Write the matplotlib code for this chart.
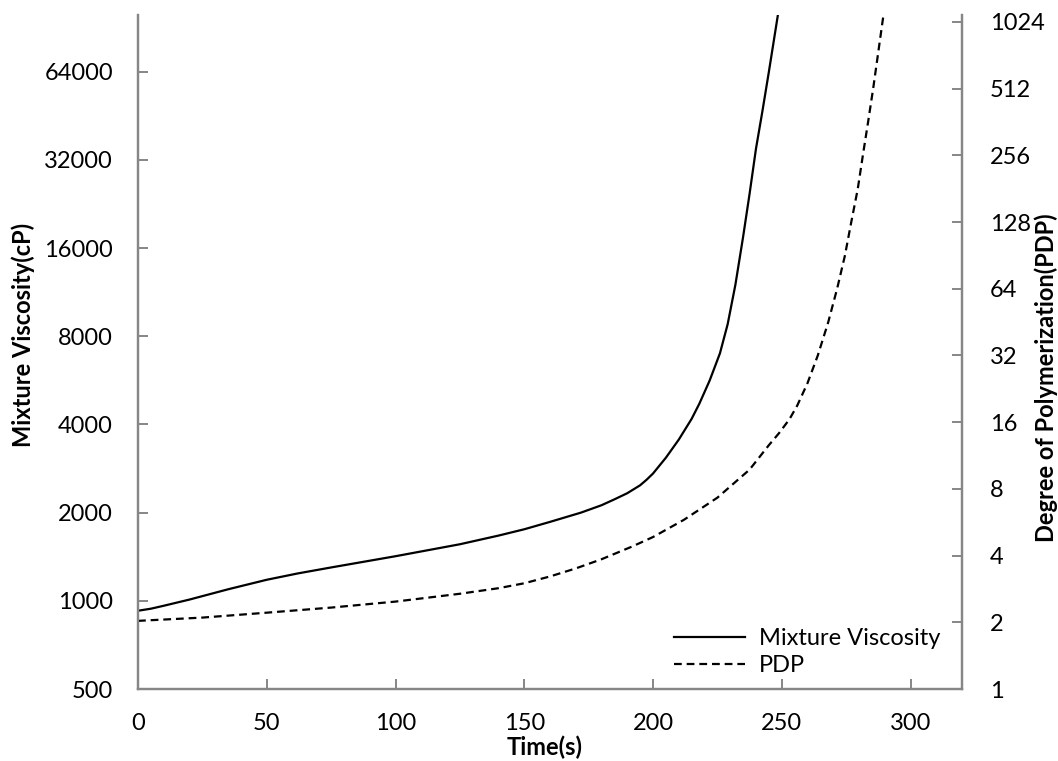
import matplotlib
matplotlib.use("Agg")
import matplotlib.pyplot as plt
from matplotlib.ticker import FixedLocator, NullLocator, FixedFormatter

# Mixture viscosity (cP) against time (s)
time_visc = [0, 5, 10, 20, 35, 50, 62, 75, 100, 125, 140, 150, 160, 172, 180, 185,
             190, 195, 197.5, 200, 205, 210, 215, 218, 222, 226, 229, 232, 235,
             237.5, 240, 242.5, 245, 248.5]
viscosity = [925, 940, 962, 1010, 1095, 1180, 1240, 1300, 1420, 1560, 1670, 1755,
             1860, 2000, 2120, 2220, 2330, 2480, 2590, 2720, 3080, 3550, 4180, 4710,
             5650, 7000, 8800, 12000, 17500, 24500, 35000, 47000, 64000, 100000]

# Degree of polymerization against time (s)
time_pdp = [0, 25, 50, 75, 100, 125, 140, 150, 160, 170, 180, 192, 200, 212, 225,
            237.5, 245, 249, 253, 256, 260, 264, 268, 271.5, 274.5, 277, 279.5,
            281.5, 283.5, 285.5, 287.5, 289.5]
pdp = [2.03, 2.1, 2.21, 2.33, 2.48, 2.69, 2.85, 3.0, 3.22, 3.5, 3.85, 4.4, 4.85,
       5.8, 7.3, 9.77, 12.6, 14.3, 16.5, 19, 24, 32, 45, 64, 90, 128, 180, 256,
       360, 512, 750, 1100]

time_ticks = [0, 50, 100, 150, 200, 250, 300]
visc_ticks = [500, 1000, 2000, 4000, 8000, 16000, 32000, 64000]
pdp_ticks = [1, 2, 4, 8, 16, 32, 64, 128, 256, 512, 1024]

axis_grey = "#868686"
plt.rcParams["font.family"] = ["Lato", "DejaVu Sans"]

fig = plt.figure(figsize=(10.58, 7.61), dpi=100)
ax = fig.add_axes([138 / 1058, 1 - 689 / 761, (962 - 138) / 1058, (689 - 15) / 761])
ax2 = ax.twinx()

line1, = ax.plot(time_visc, viscosity, color="black", lw=1.6, label="Mixture Viscosity")
line2, = ax2.plot(time_pdp, pdp, color="black", lw=1.6, dashes=(3.5, 2.2), label="PDP")

ax.set_xlim(0, 320)
ax.set_yscale("log", base=2)
ax.set_ylim(500, 100000)
ax2.set_yscale("log", base=2)
ax2.set_ylim(1, 1100)

ax.xaxis.set_major_locator(FixedLocator(time_ticks))
ax.xaxis.set_major_formatter(FixedFormatter([str(t) for t in time_ticks]))
ax.yaxis.set_major_locator(FixedLocator(visc_ticks))
ax.yaxis.set_major_formatter(FixedFormatter([str(v) for v in visc_ticks]))
ax.yaxis.set_minor_locator(NullLocator())
ax2.yaxis.set_major_locator(FixedLocator(pdp_ticks))
ax2.yaxis.set_major_formatter(FixedFormatter([str(v) for v in pdp_ticks]))
ax2.yaxis.set_minor_locator(NullLocator())

for a in (ax, ax2):
    for side in ("left", "right", "bottom"):
        a.spines[side].set_color(axis_grey)
        a.spines[side].set_linewidth(1.6)
    a.spines["top"].set_visible(False)

ax.tick_params(axis="x", direction="in", length=7.5, width=1.4, color=axis_grey,
               labelsize=17, pad=17)
ax.tick_params(axis="y", direction="in", length=7.5, width=1.4, color=axis_grey,
               labelsize=17, pad=18)
ax2.tick_params(axis="y", direction="in", length=7.5, width=1.4, color=axis_grey,
                labelsize=17, pad=20)

fig.text(23 / 1058, 1 - 335 / 761, "Mixture Viscosity(cP)", rotation=90,
         ha="center", va="center", fontsize=17, fontweight="bold")
fig.text(1046 / 1058, 1 - 378 / 761, "Degree of Polymerization(PDP)", rotation=90,
         ha="center", va="center", fontsize=17, fontweight="bold")
fig.text(545 / 1058, 1 - 747 / 761, "Time(s)", ha="center", va="center",
         fontsize=17, fontweight="bold")

ax2.legend(handles=[line1, line2], loc="lower left",
           bbox_to_anchor=((674 - 138) / 824, (689 - 676) / 674),
           frameon=False, fontsize=17, handlelength=3.0, handletextpad=0.6,
           labelspacing=0.25, borderpad=0, borderaxespad=0)

fig.savefig("out.png", dpi=100)
